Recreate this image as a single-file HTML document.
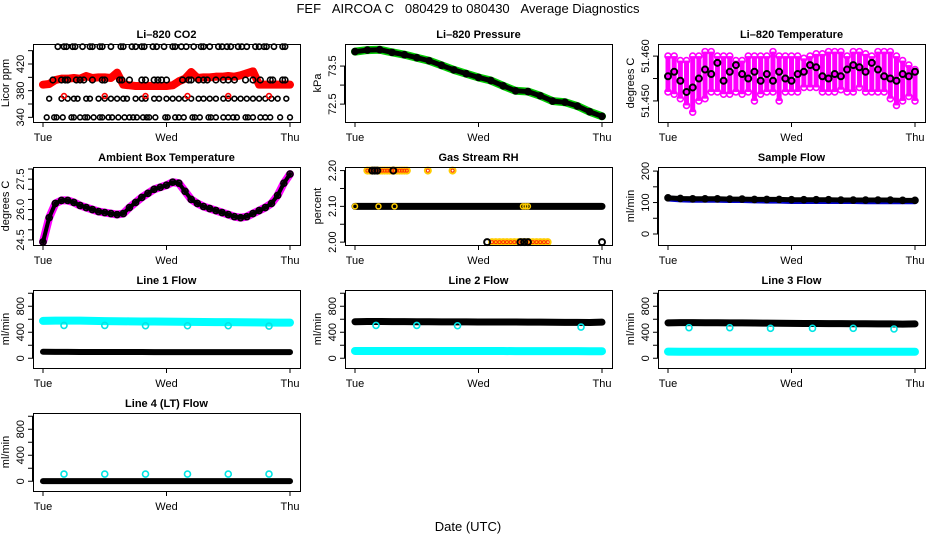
<!DOCTYPE html>
<html><head><meta charset="utf-8">
<style>
html,body{margin:0;padding:0;background:#fff;}
svg{display:block;font-family:"Liberation Sans",Arial,sans-serif;}
</style></head>
<body>
<svg id="chart" width="936" height="540" viewBox="0 0 936 540">
<rect x="0" y="0" width="936" height="540" fill="#fff"/>
<text x="468" y="13" text-anchor="middle" font-size="13">FEF&#160;&#160;&#160;AIRCOA C&#160;&#160;&#160;080429 to 080430&#160;&#160;&#160;Average Diagnostics</text>
<text x="468" y="531" text-anchor="middle" font-size="13">Date (UTC)</text>
</svg>
<script>
// ---- data (time in days since Tue 00:00) ----
const dayLabels = ["Tue","Wed","Thu"];
const T21 = [0,0.1,0.2,0.3,0.4,0.5,0.6,0.7,0.8,0.9,1.0,1.1,1.2,1.3,1.4,1.5,1.6,1.7,1.8,1.9,2.0];
const T41 = [0,0.05,0.1,0.15,0.2,0.25,0.3,0.35,0.4,0.45,0.5,0.55,0.6,0.65,0.7,0.75,0.8,0.85,0.9,0.95,1.0,1.05,1.1,1.15,1.2,1.25,1.3,1.35,1.4,1.45,1.5,1.55,1.6,1.65,1.7,1.75,1.8,1.85,1.9,1.95,2.0];

// CO2
const co2Red = [389,390,396,398,398,399,398,402,399,400,400,399,407,389,388,387,387,387,387,387,387,388,394,398,408,399,400,400,401,401,402,401,403,406,409,389,389,389,389,389,389];
const co2Levels = [446,396,368,340];
const co2TopTimes = [0.12,0.17,0.19,0.24,0.26,0.32,0.38,0.40,0.46,0.48,0.55,0.63,0.65,0.72,0.75,0.80,0.82,0.89,0.92,0.98,1.05,1.07,1.12,1.16,1.22,1.28,1.30,1.35,1.42,1.45,1.49,1.52,1.58,1.61,1.65,1.72,1.75,1.79,1.81,1.87,1.94,1.96];
const co2MidTimes = [0.08,0.15,0.18,0.20,0.27,0.30,0.33,0.40,0.48,0.50,0.62,0.64,0.70,0.80,0.83,0.90,0.93,0.96,1.00,1.13,1.18,1.20,1.26,1.30,1.33,1.40,1.46,1.50,1.55,1.64,1.70,1.76,1.84,1.86,1.94,1.96];
const co2LowTimes = [0.05,0.15,0.20,0.25,0.28,0.35,0.38,0.45,0.50,0.55,0.60,0.65,0.68,0.75,0.80,0.83,0.90,0.94,1.00,1.05,1.10,1.15,1.20,1.26,1.30,1.35,1.40,1.46,1.50,1.55,1.60,1.65,1.70,1.75,1.80,1.85,1.90,1.97];
const co2BotTimes = [0.03,0.09,0.11,0.16,0.23,0.25,0.30,0.34,0.36,0.41,0.46,0.48,0.53,0.56,0.61,0.66,0.70,0.73,0.76,0.81,0.84,0.86,0.91,0.99,1.01,1.07,1.10,1.14,1.21,1.23,1.27,1.34,1.36,1.40,1.46,1.50,1.54,1.57,1.64,1.66,1.70,1.76,1.80,1.84,1.92,2.0];
const co2RedSqTimes = [0.17,0.5,0.83,1.17,1.5,1.83];
const co2RedSqValue = 372;

// Pressure
const pressure = [73.88,73.92,73.93,73.86,73.80,73.72,73.64,73.52,73.40,73.30,73.20,73.12,72.98,72.85,72.83,72.72,72.58,72.55,72.45,72.30,72.18];

// Li-820 temperature
const tempMagHi = [51.4600,51.4600,51.4590,51.4590,51.4600,51.4600,51.4610,51.4610,51.4600,51.4600,51.4600,51.4590,51.4590,51.4600,51.4600,51.4600,51.4600,51.4610,51.4600,51.4600,51.4600,51.4600,51.4595,51.4600,51.4605,51.4605,51.4610,51.4610,51.4610,51.4600,51.4610,51.4610,51.4605,51.4600,51.4610,51.4610,51.4610,51.4600,51.4590,51.4580,51.4570];
const tempMagLo = [51.4520,51.4515,51.4505,51.4490,51.4475,51.4500,51.4505,51.4520,51.4520,51.4515,51.4515,51.4520,51.4515,51.4520,51.4500,51.4515,51.4520,51.4520,51.4500,51.4520,51.4520,51.4520,51.4530,51.4530,51.4530,51.4520,51.4520,51.4520,51.4525,51.4520,51.4520,51.4530,51.4520,51.4520,51.4520,51.4520,51.4505,51.4490,51.4500,51.4510,51.4500];
const tempBlack = [51.4555,51.4565,51.4545,51.4520,51.4530,51.4550,51.4570,51.4560,51.4585,51.4545,51.4565,51.4580,51.4560,51.4550,51.4565,51.4545,51.4560,51.4545,51.4565,51.4550,51.4545,51.4560,51.4565,51.4580,51.4575,51.4555,51.4550,51.4560,51.4555,51.4570,51.4580,51.4575,51.4565,51.4585,51.4570,51.4555,51.4550,51.4545,51.4560,51.4555,51.4565];

// Ambient box temperature (every 0.05 day)
const ambient = [24.4,25.6,26.3,26.45,26.45,26.35,26.2,26.1,26.0,25.9,25.85,25.8,25.75,25.8,26.1,26.35,26.6,26.8,27.0,27.1,27.2,27.35,27.3,26.9,26.5,26.3,26.15,26.05,25.95,25.85,25.75,25.65,25.6,25.65,25.8,25.95,26.1,26.3,26.7,27.3,27.75];

// Gas stream RH
const rhMain = 2.10;
const rhOrangeHiTimes = [0.10,0.12,0.14,0.16,0.18,0.20,0.22,0.24,0.26,0.28,0.30,0.32,0.34,0.36,0.38,0.40,0.42,0.59,0.79];
const rhBlackHiTimes = [0.14,0.16,0.18,0.31];
const rhOrangeLoTimes = [1.11,1.14,1.17,1.20,1.23,1.26,1.29,1.32,1.35,1.38,1.41,1.44,1.47,1.50,1.53,1.56];
const rhBlackLoTimes = [1.07,1.34,1.37,1.40,2.0];
const rhOrangeMidTimes = [0.0,0.19,0.32,1.36,1.38,1.40];

// Sample flow
const sampleBlack = [115,113,112,112,112,111,111,110,110,110,109,109,109,109,108,108,108,108,108,107,107];
const sampleBlue = [113,110,109,109,109,108,108,107,106,106,105,105,105,105,105,105,104,104,104,104,104];

// Line flows
const line1Cyan = [575,578,578,578,575,572,570,568,566,565,563,562,560,558,556,555,553,552,550,548,548];
const line1Black = [100,98,98,97,97,96,96,96,96,95,95,95,95,95,95,95,95,95,95,95,95];
const line2Black = [562,565,565,563,563,562,562,560,560,560,558,558,558,557,556,555,553,552,552,550,555];
const line2Cyan = [112,112,112,112,112,112,112,112,112,111,111,111,111,110,110,110,110,110,110,108,108];
const line3Black = [545,548,548,547,546,545,544,543,540,538,537,535,534,533,532,530,530,528,528,525,528];
const line3Cyan = [102,100,100,100,100,100,100,100,100,100,100,100,100,100,100,100,100,100,100,100,100];
const line4Black = [2,2,2,2,2,2,2,2,2,2,2,2,2,2,2,2,2,2,2,2,2];
const spikeTimes = [0.17,0.5,0.83,1.17,1.5,1.83];
const line1Spike = [505,505,500,500,500,495];
const line2Spike = [505,505,500,null,null,480];
const line3Spike = [470,470,460,460,460,450];
const line4Spike = [110,110,110,110,110,110];

// ---- helpers ----
const NS = "http://www.w3.org/2000/svg";
const svg = document.getElementById("chart");
function el(tag, attrs, parent){
  const e = document.createElementNS(NS, tag);
  for (const k in attrs) e.setAttribute(k, attrs[k]);
  (parent||svg).appendChild(e);
  return e;
}
const colX = [33, 345, 658];
const rowY = [44, 167, 290, 413];
const W = 267, H = 78;

function makePanel(key, col, row, title, ylab, ymin, ymax, ticks, tickLabels){
  const L = colX[col], T = rowY[row];
  const g = el("g", {});
  
  
  const xs = t => L + 10 + t / 2 * (W - 20);
  const ys = v => T + H - (v - ymin) / (ymax - ymin) * H;
  const tt = el("text", {x: L + W/2, y: T - 6, "text-anchor": "middle", "font-size": 11, "font-weight": "bold"}, g);
  tt.textContent = title;
  
  
  const yl = el("text", {x: 0, y: 0, "text-anchor": "middle", "font-size": 11, transform: `translate(${L-24},${T+H/2}) rotate(-90)`}, g);
  yl.textContent = ylab;
  
  
  const plot = el("g", {}, g);
  
  
  const yax = el("g", {stroke: "#000", "stroke-width": 1}, g);
  
  
  el("line", {x1: L-0.5, x2: L-0.5, y1: ys(ticks[0]), y2: ys(ticks[ticks.length-1])}, yax);
  ticks.forEach((v, i) => {
    el("line", {x1: L-5, x2: L, y1: ys(v), y2: ys(v)}, yax);
    if (tickLabels[i] !== "") {
      const t = el("text", {x: 0, y: 0, "text-anchor": "middle", "font-size": 11, stroke: "none", transform: `translate(${L-9},${ys(v)}) rotate(-90)`}, yax);
      t.textContent = tickLabels[i];
      
      
    }
  });
  const xax = el("g", {stroke: "#000", "stroke-width": 1}, g);
  
  
  el("line", {x1: xs(0), x2: xs(2), y1: T+H+0.5, y2: T+H+0.5}, xax);
  dayLabels.forEach((d, i) => {
    el("line", {x1: xs(i), x2: xs(i), y1: T+H, y2: T+H+5}, xax);
    const t = el("text", {x: xs(i), y: T+H+19, "text-anchor": "middle", "font-size": 11, stroke: "none"}, xax);
    t.textContent = d;
    
    
  });
  const box = el("rect", {x: L+0.5, y: T+0.5, width: W, height: H, fill: "none", stroke: "#000", "stroke-width": 1}, g);
  
  
  return {plot, xs, ys};
}
function band(p, times, vals, color, width, name){
  const pts = times.map((t,i) => vals[i] == null ? null : p.xs(t) + "," + p.ys(vals[i])).filter(Boolean).join(" ");
  const pl = el("polyline", {points: pts, fill: "none", stroke: color, "stroke-width": width, "stroke-linejoin": "round", "stroke-linecap": "round"}, p.plot);
  
  
}
function circles(p, times, vals, color, r, name, sw){
  const g = el("g", {fill: "none", stroke: color, "stroke-width": sw || 1.6}, p.plot);
  
  
  times.forEach((t,i) => {
    const v = Array.isArray(vals) ? vals[i] : vals;
    if (v == null) return;
    const c = el("circle", {cx: p.xs(t), cy: p.ys(v), r: r}, g);
    
    
  });
}
function rangeBars(p, times, lo, hi, color, name){
  const g = el("g", {fill: color}, p.plot);
  
  
  times.forEach((t,i) => {
    const y1 = p.ys(hi[i]), y2 = p.ys(lo[i]);
    const r = el("rect", {x: p.xs(t)-2.5, y: y1, width: 5, height: y2-y1}, g);
    
    
  });
}

// ---- panels ----
let p;
p = makePanel("co2", 0, 0, "Li\u2013820 CO2", "Licor ppm", 333, 450, [340,360,380,400,420,440], ["340","","380","","420",""]);
band(p, T41, co2Red, "#ff0000", 8, "co2-red-series");
circles(p, T41, co2Red, "#ff0000", 3, "co2-red-points");
circles(p, co2TopTimes, co2Levels[0], "#000", 2.6, "co2-black-top");
circles(p, co2MidTimes, co2Levels[1], "#000", 2.8, "co2-black-mid");
circles(p, co2LowTimes, co2Levels[2], "#000", 2.4, "co2-black-low");
circles(p, co2BotTimes, co2Levels[3], "#000", 2.4, "co2-black-bottom");
circles(p, co2RedSqTimes, co2RedSqValue, "#ff0000", 2.4, "co2-red-squares");

p = makePanel("pressure", 1, 0, "Li\u2013820 Pressure", "kPa", 72.03, 74.08, [72.5,73.0,73.5], ["72.5","","73.5"]);
band(p, T21, pressure, "#00cc00", 8, "pressure-green-series");
band(p, T21, pressure, "#000", 5, "pressure-black-series");
circles(p, T21, pressure, "#000", 3, "pressure-points");

p = makePanel("li820-temp", 2, 0, "Li\u2013820 Temperature", "degrees C", 51.4453, 51.4627, [51.450,51.455,51.460], ["51.450","","51.460"]);
rangeBars(p, T41, tempMagLo, tempMagHi, "#ff00ff", "temp-magenta-range");
circles(p, T41, tempMagHi, "#ff00ff", 3, "temp-magenta-hi");
circles(p, T41, tempMagLo, "#ff00ff", 3, "temp-magenta-lo");
circles(p, T41, tempBlack, "#000", 3, "temp-black-points", 2);

p = makePanel("ambient", 0, 1, "Ambient Box Temperature", "degrees C", 24.25, 28.1, [24.5,25,25.5,26,26.5,27,27.5,28], ["24.5","","","26.0","","","27.5",""]);
band(p, T41, ambient, "#ff00ff", 8, "ambient-magenta-series");
band(p, T41, ambient, "#000", 4, "ambient-black-series");
circles(p, T41, ambient, "#000", 3, "ambient-points");

p = makePanel("rh", 1, 1, "Gas Stream RH", "percent", 1.992, 2.21, [2.00,2.05,2.10,2.15,2.20], ["2.00","","2.10","","2.20"]);
band(p, T21, T21.map(() => rhMain), "#000", 7, "rh-main-series");
circles(p, rhOrangeHiTimes, 2.20, "#ffcc00", 3, "rh-orange-high", 2);
circles(p, rhOrangeHiTimes, 2.20, "#ff3300", 1.5, "rh-red-high", 1);
circles(p, rhBlackHiTimes, 2.20, "#000", 3, "rh-black-high", 2);
circles(p, rhOrangeLoTimes, 2.00, "#ffcc00", 3, "rh-orange-low", 2);
circles(p, rhOrangeLoTimes, 2.00, "#ff3300", 1.5, "rh-red-low", 1);
circles(p, rhBlackLoTimes, 2.00, "#000", 3, "rh-black-low", 2);
circles(p, rhOrangeMidTimes, 2.10, "#ffcc00", 2.5, "rh-orange-mid", 1.5);

p = makePanel("sample-flow", 2, 1, "Sample Flow", "ml/min", -35, 213, [0,50,100,150,200], ["0","","100","","200"]);
band(p, T21, sampleBlue, "#0000cc", 6, "sample-blue-series");
band(p, T21, sampleBlack, "#000", 5, "sample-black-series");
circles(p, T21, sampleBlack, "#000", 3, "sample-points");

const flowTicks = [0,200,400,600,800,1000];
const flowLabels = ["0","","400","","800",""];
p = makePanel("line1", 0, 2, "Line 1 Flow", "ml/min", -150, 1050, flowTicks, flowLabels);
band(p, T21, line1Cyan, "#00ffff", 8, "line1-cyan-series");
band(p, T21, line1Black, "#000", 6, "line1-black-series");
circles(p, spikeTimes, line1Spike, "#00e5e5", 3, "line1-cyan-spikes");

p = makePanel("line2", 1, 2, "Line 2 Flow", "ml/min", -150, 1050, flowTicks, flowLabels);
band(p, T21, line2Cyan, "#00ffff", 8, "line2-cyan-series");
band(p, T21, line2Black, "#000", 7, "line2-black-series");
circles(p, spikeTimes, line2Spike, "#00e5e5", 3, "line2-cyan-spikes");

p = makePanel("line3", 2, 2, "Line 3 Flow", "ml/min", -150, 1050, flowTicks, flowLabels);
band(p, T21, line3Cyan, "#00ffff", 8, "line3-cyan-series");
band(p, T21, line3Black, "#000", 7, "line3-black-series");
circles(p, spikeTimes, line3Spike, "#00e5e5", 3, "line3-cyan-spikes");

p = makePanel("line4", 0, 3, "Line 4 (LT) Flow", "ml/min", -150, 1050, flowTicks, flowLabels);
band(p, T21, line4Black, "#000", 6, "line4-black-series");
circles(p, spikeTimes, line4Spike, "#00e5e5", 3, "line4-cyan-spikes");
</script>
</body></html>
